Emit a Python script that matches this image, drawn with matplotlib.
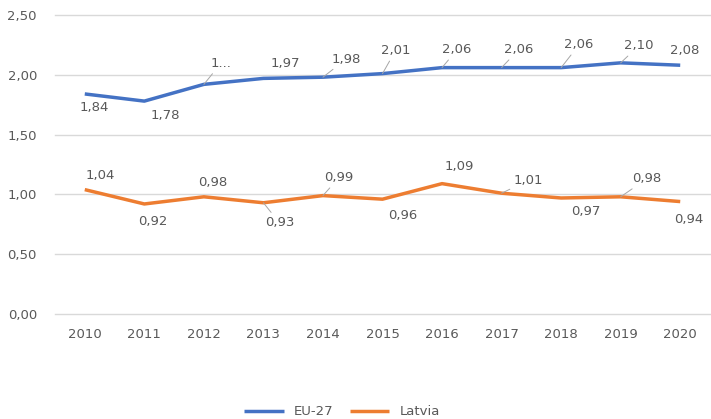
import matplotlib
matplotlib.use("Agg")
import matplotlib.pyplot as plt

years = ["2010", "2011", "2012", "2013", "2014", "2015", "2016", "2017", "2018", "2019", "2020"]
eu27 = [1.84, 1.78, 1.92, 1.97, 1.98, 2.01, 2.06, 2.06, 2.06, 2.10, 2.08]
latvia = [1.04, 0.92, 0.98, 0.93, 0.99, 0.96, 1.09, 1.01, 0.97, 0.98, 0.94]
eu_labels = ["1,84", "1,78", "1...", "1,97", "1,98", "2,01", "2,06", "2,06", "2,06", "2,10", "2,08"]
lv_labels = ["1,04", "0,92", "0,98", "0,93", "0,99", "0,96", "1,09", "1,01", "0,97", "0,98", "0,94"]
yticks = [0, 0.5, 1.0, 1.5, 2.0, 2.5]
ytick_labels = ["0,00", "0,50", "1,00", "1,50", "2,00", "2,50"]

# label layout (pixel offsets, leader flag)
eu_off = [(9, -14), (21, -14), (17, 21), (22, 15), (23, 18), (13, 23), (15, 18), (17, 18), (18, 23), (18, 17), (4, 15)]
eu_lead = [0, 0, 1, 0, 1, 1, 1, 1, 1, 1, 0]
lv_off = [(15, 14), (8, -18), (9, 14), (16, -20), (16, 18), (20, -16), (17, 17), (27, 13), (25, -14), (26, 18), (9, -18)]
lv_lead = [0, 0, 0, 1, 1, 0, 0, 1, 0, 1, 0]

BLUE = "#4472C4"
ORANGE = "#ED7D31"
TXT = "#595959"
FS = 9.5
plt.rcParams['font.family'] = ['DejaVu Sans']

fig = plt.figure(figsize=(7.11, 4.19), dpi=100)
ax = fig.add_axes([55/711, 1 - 314/419, 655/711, (314 - 15)/419])

x = list(range(len(years)))
ax.plot(x, eu27, color=BLUE, lw=2.5, label="EU-27", solid_capstyle='butt')
ax.plot(x, latvia, color=ORANGE, lw=2.5, label="Latvia", solid_capstyle='butt')

def annotate(vals, labels, offs, leads):
    for i, (v, lab, off, ld) in enumerate(zip(vals, labels, offs, leads)):
        kw = {}
        if ld:
            kw['arrowprops'] = dict(arrowstyle='-', color='#A6A6A6', lw=0.7, shrinkA=1, shrinkB=0)
        ax.annotate(lab, (i, v), xytext=off, textcoords='offset pixels',
                    ha='center', va='center', fontsize=FS, color=TXT, **kw)

annotate(eu27, eu_labels, eu_off, eu_lead)
annotate(latvia, lv_labels, lv_off, lv_lead)

ax.set_xlim(-0.5, len(years) - 0.5)
ax.set_ylim(0, 2.5)
ax.set_xticks(x)
ax.set_xticklabels(years)
ax.set_yticks(yticks)
ax.set_yticklabels(ytick_labels)
ax.tick_params(length=0, colors=TXT, labelsize=FS)
ax.tick_params(axis='y', pad=13)
ax.tick_params(axis='x', pad=10)
ax.grid(axis='y', color='#D9D9D9', lw=1)
for gl in ax.get_ygridlines():
    gl.set_clip_on(False)
ax.set_axisbelow(True)
for s in ax.spines.values():
    s.set_visible(False)

fig.legend(loc='center', bbox_to_anchor=(0.481, 0.017), ncol=2, frameon=False,
           fontsize=FS, handlelength=3, columnspacing=1.2, labelcolor=TXT)

fig.savefig("out.png", dpi=100)
